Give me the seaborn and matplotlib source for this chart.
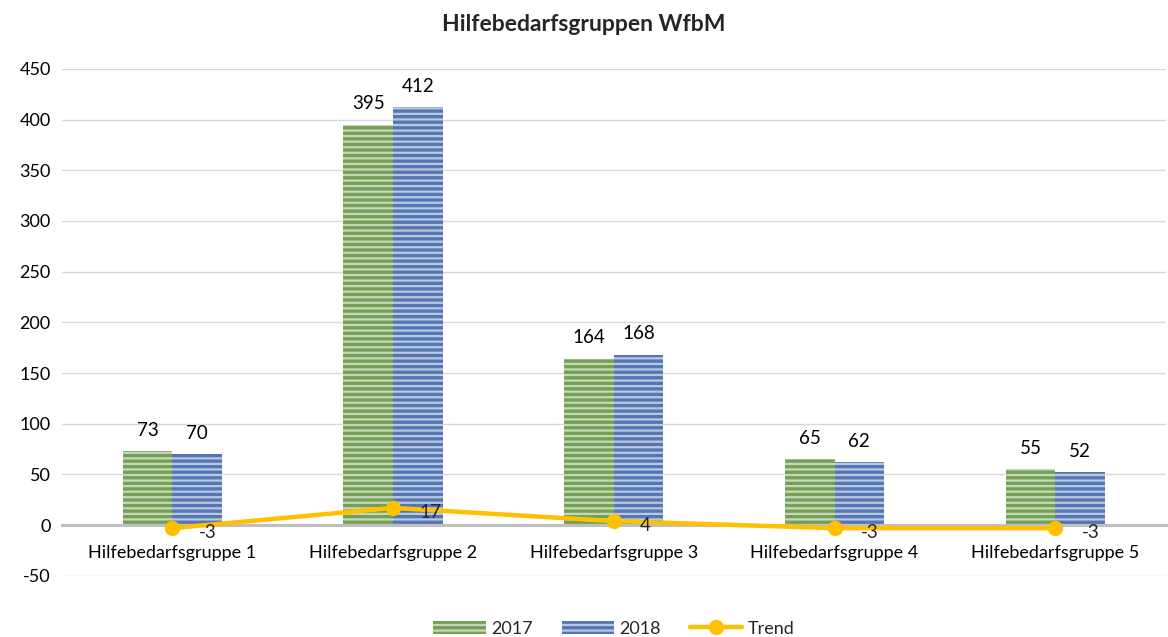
import pandas as pd
import matplotlib.pyplot as plt
import seaborn as sns

# --- data ---
categories = ['Hilfebedarfsgruppe 1', 'Hilfebedarfsgruppe 2', 'Hilfebedarfsgruppe 3',
              'Hilfebedarfsgruppe 4', 'Hilfebedarfsgruppe 5']
values_2017 = [73, 395, 164, 65, 55]
values_2018 = [70, 412, 168, 62, 52]
trend = [-3, 17, 4, -3, -3]

df = pd.DataFrame({
    'Gruppe': categories * 2,
    'Jahr': ['2017'] * len(categories) + ['2018'] * len(categories),
    'Anzahl': values_2017 + values_2018,
})

sns.set_style('white')
plt.rcParams['font.family'] = ['Lato', 'DejaVu Sans']
plt.rcParams['axes.unicode_minus'] = False
plt.rcParams['hatch.linewidth'] = 1.6

fig = plt.figure(figsize=(11.68, 6.37), dpi=100)
ax = fig.add_axes([0.053, 0.096, 0.945, 0.796])

# --- bars ---
sns.barplot(data=df, x='Gruppe', y='Anzahl', hue='Jahr', order=categories,
            palette={'2017': '#70AD47', '2018': '#4472C4'},
            width=0.45, gap=0, edgecolor=(1, 1, 1, 0.6), linewidth=0,
            hatch='---', ax=ax, zorder=2)

for cont in ax.containers:
    ax.bar_label(cont, padding=9, fontsize=13.5, color='#000000')

# --- trend line ---
ax.plot(range(len(categories)), trend, color='#FFC000', linewidth=3.2,
        marker='o', markersize=10, label='Trend', zorder=4)
for i, v in enumerate(trend):
    ax.annotate(str(v), (i, v), xytext=(19, -3), textcoords='offset points',
                ha='left', va='center', fontsize=13.5, zorder=5)

# --- axes ---
ax.set_ylim(-50, 450)
ax.set_xlim(-0.5, 4.5)
ax.set_yticks(range(-50, 451, 50))
ax.grid(axis='y', color='#d9d9d9', linewidth=1, zorder=0)
ax.set_axisbelow(True)
for s in ['top', 'right', 'left']:
    ax.spines[s].set_visible(False)
ax.spines['bottom'].set_position(('data', 0))
ax.spines['bottom'].set_color('#bfbfbf')
ax.spines['bottom'].set_linewidth(2.2)
ax.spines['bottom'].set_zorder(3)
ax.tick_params(axis='y', length=0, labelsize=13, colors='#000000', pad=8)
ax.tick_params(axis='x', length=0, labelsize=13, colors='#000000', pad=14)
ax.set_xlabel('')
ax.set_ylabel('')

fig.suptitle('Hilfebedarfsgruppen WfbM', fontsize=16.5, fontweight='bold', y=0.978)

# --- legend ---
handles, labels = ax.get_legend_handles_labels()
ax.legend(handles, labels, loc='lower center', bbox_to_anchor=(0.5, -0.152),
          ncol=3, frameon=False, fontsize=13, handlelength=2.9,
          handleheight=0.7, columnspacing=1.6, handletextpad=0.3)

plt.savefig('out.png', dpi=100)
